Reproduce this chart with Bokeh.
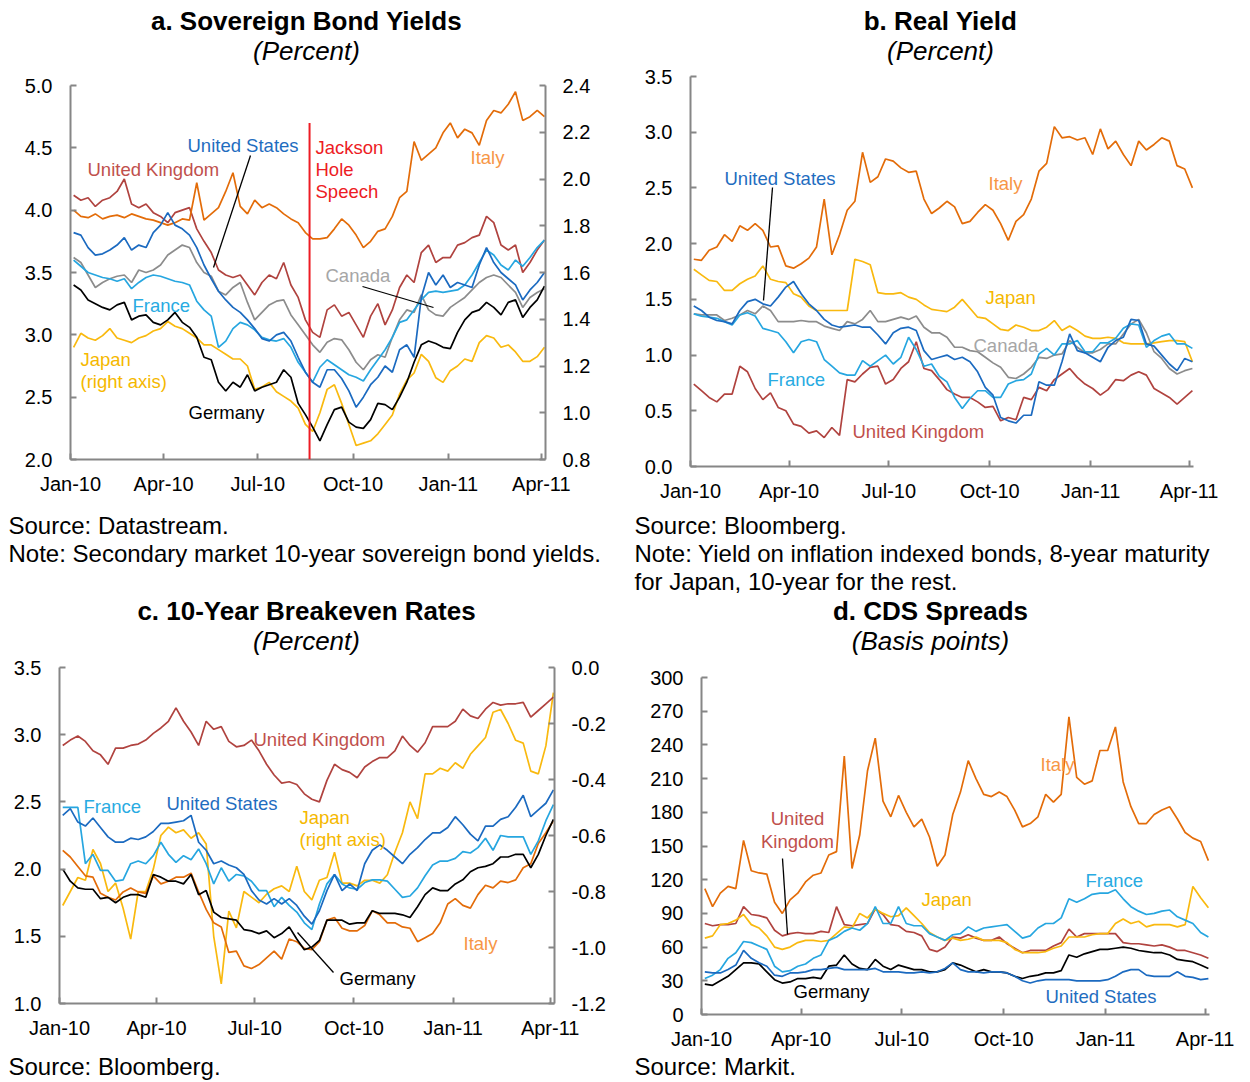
import numpy as np
import pandas as pd
from bokeh.plotting import figure
from bokeh.layouts import column, row
from bokeh.models import (Range1d, LinearAxis, FixedTicker, PrintfTickFormatter,
                          DatetimeTickFormatter, Label, Arrow)
from bokeh.embed import file_html
from bokeh.resources import INLINE

# ---------------------------------------------------------------- data
dates = pd.date_range("2010-01-04", periods=66, freq="7D")   # weekly observations
x_start, x_end = "2010-01-01", "2011-04-05"
tick_dates = ["2010-01-01", "2010-04-01", "2010-07-01", "2010-10-01", "2011-01-01", "2011-04-01"]
tick_labels = ["Jan-10", "Apr-10", "Jul-10", "Oct-10", "Jan-11", "Apr-11"]
jackson_hole_date = "2010-08-20"

# a. Sovereign bond yields (percent); Japan on right axis
a_italy = [4.00,3.95,3.94,3.97,3.93,3.95,3.96,3.94,3.97,3.95,
           3.93,3.92,3.90,3.88,3.90,3.93,3.92,4.22,3.92,3.97,
           4.02,4.15,4.30,4.03,3.97,4.08,4.02,4.05,4.02,3.97,
           3.93,3.90,3.82,3.77,3.77,3.78,3.85,3.93,3.88,3.80,
           3.70,3.75,3.83,3.85,3.95,4.10,4.15,4.55,4.40,4.45,
           4.50,4.62,4.70,4.58,4.65,4.62,4.52,4.72,4.80,4.78,
           4.85,4.95,4.72,4.75,4.80,4.75]
a_uk = [4.12,4.08,4.10,4.03,4.08,4.10,4.15,4.25,4.05,4.02,
        4.05,3.98,3.95,3.90,3.98,4.00,4.02,3.85,3.75,3.66,
        3.52,3.48,3.46,3.48,3.40,3.32,3.42,3.48,3.45,3.58,
        3.40,3.30,3.12,3.02,2.98,3.20,3.24,3.15,3.18,3.08,
        2.98,3.15,3.25,3.08,3.20,3.38,3.48,3.42,3.66,3.72,
        3.58,3.62,3.62,3.72,3.74,3.78,3.80,3.95,3.90,3.72,
        3.68,3.72,3.50,3.58,3.68,3.76]
a_us = [3.82,3.80,3.70,3.64,3.65,3.68,3.72,3.78,3.68,3.72,
        3.70,3.82,3.88,3.98,3.88,3.85,3.80,3.70,3.56,3.45,
        3.35,3.28,3.22,3.18,3.12,3.05,2.97,2.95,3.00,3.02,
        2.95,2.82,2.70,2.62,2.58,2.72,2.72,2.65,2.55,2.42,
        2.50,2.60,2.66,2.75,2.70,2.88,2.92,2.82,3.30,3.50,
        3.40,3.48,3.38,3.42,3.40,3.38,3.56,3.70,3.58,3.50,
        3.45,3.40,3.28,3.36,3.42,3.50]
a_france = [3.60,3.55,3.50,3.48,3.46,3.45,3.43,3.45,3.37,3.42,
            3.46,3.48,3.47,3.45,3.43,3.42,3.40,3.27,3.20,3.15,
            2.90,2.95,3.05,3.10,3.08,3.04,2.98,2.96,2.95,2.97,
            2.90,2.78,2.70,2.62,2.74,2.80,2.76,2.72,2.68,2.66,
            2.63,2.72,2.80,2.88,2.98,3.10,3.12,3.20,3.28,3.34,
            3.35,3.34,3.35,3.36,3.40,3.48,3.58,3.68,3.64,3.56,
            3.52,3.60,3.55,3.62,3.70,3.76]
a_canada = [3.62,3.58,3.48,3.38,3.42,3.45,3.47,3.48,3.42,3.52,
            3.50,3.52,3.56,3.64,3.68,3.72,3.70,3.58,3.50,3.47,
            3.35,3.32,3.38,3.42,3.26,3.12,3.18,3.24,3.27,3.28,
            3.16,3.08,3.00,2.92,2.86,2.94,2.97,2.96,2.88,2.78,
            2.72,2.80,2.84,2.82,2.98,3.12,3.20,3.18,3.32,3.20,
            3.16,3.15,3.22,3.26,3.30,3.36,3.42,3.46,3.48,3.46,
            3.40,3.34,3.22,3.30,3.34,3.37]
a_germany = [3.40,3.36,3.28,3.25,3.22,3.20,3.24,3.26,3.12,3.15,
             3.16,3.10,3.08,3.12,3.18,3.10,3.06,2.98,2.82,2.80,
             2.62,2.55,2.62,2.58,2.68,2.55,2.58,2.60,2.62,2.72,
             2.66,2.45,2.36,2.26,2.15,2.28,2.40,2.42,2.30,2.26,
             2.25,2.32,2.45,2.44,2.40,2.50,2.62,2.78,2.92,2.95,
             2.93,2.90,2.89,3.02,3.12,3.18,3.20,3.26,3.22,3.16,
             3.26,3.28,3.14,3.22,3.28,3.39]
a_japan = [1.28,1.34,1.32,1.31,1.33,1.36,1.32,1.31,1.30,1.32,
           1.33,1.35,1.36,1.39,1.37,1.36,1.34,1.32,1.29,1.29,
           1.27,1.25,1.23,1.23,1.20,1.10,1.11,1.13,1.09,1.07,
           1.05,1.02,0.95,0.92,1.00,1.10,1.12,1.04,0.95,0.86,
           0.87,0.88,0.91,0.95,0.99,1.08,1.14,1.17,1.25,1.22,
           1.15,1.13,1.18,1.20,1.23,1.22,1.30,1.33,1.32,1.28,
           1.29,1.26,1.22,1.22,1.24,1.28]

# b. Real yield (percent)
b_italy = [1.86,1.85,1.94,1.97,2.08,2.02,2.16,2.12,2.18,2.12,
           1.97,1.98,1.80,1.78,1.82,1.87,1.97,2.40,1.90,2.08,
           2.30,2.38,2.82,2.55,2.60,2.76,2.74,2.68,2.64,2.65,
           2.40,2.27,2.32,2.38,2.33,2.18,2.20,2.28,2.35,2.30,
           2.18,2.03,2.20,2.26,2.40,2.65,2.72,3.05,2.95,2.96,
           2.93,2.95,2.80,3.03,2.85,2.92,2.80,2.70,2.92,2.84,
           2.89,2.95,2.92,2.70,2.67,2.50]
b_uk = [0.74,0.68,0.62,0.58,0.65,0.65,0.90,0.85,0.70,0.60,
        0.66,0.53,0.50,0.38,0.36,0.30,0.32,0.26,0.35,0.28,
        0.78,0.76,0.83,0.89,0.90,0.74,0.78,0.88,0.94,1.12,
        0.88,0.86,0.78,0.69,0.65,0.62,0.62,0.58,0.53,0.54,
        0.41,0.44,0.42,0.62,0.60,0.71,0.68,0.78,0.83,0.88,
        0.80,0.74,0.70,0.64,0.69,0.78,0.77,0.82,0.85,0.82,
        0.70,0.66,0.62,0.56,0.62,0.68]
b_japan = [1.77,1.72,1.67,1.66,1.58,1.58,1.64,1.68,1.71,1.80,
           1.68,1.66,1.65,1.55,1.52,1.44,1.40,1.40,1.40,1.40,
           1.40,1.86,1.84,1.81,1.56,1.55,1.55,1.56,1.52,1.50,
           1.45,1.41,1.40,1.39,1.43,1.50,1.42,1.34,1.33,1.28,
           1.23,1.22,1.27,1.25,1.22,1.22,1.25,1.31,1.22,1.26,
           1.22,1.17,1.15,1.15,1.16,1.15,1.11,1.10,1.10,1.10,
           1.11,1.12,1.13,1.13,1.12,0.94]
b_us = [1.44,1.40,1.34,1.31,1.30,1.28,1.40,1.48,1.50,1.46,
        1.44,1.52,1.61,1.66,1.55,1.46,1.40,1.32,1.27,1.25,
        1.26,1.27,1.25,1.25,1.18,1.10,1.20,1.24,1.25,1.22,
        1.04,0.96,0.98,1.00,0.96,0.98,0.94,0.85,0.71,0.64,
        0.44,0.41,0.39,0.46,0.46,0.76,0.73,0.73,0.94,1.19,
        1.04,1.02,0.98,0.94,1.07,1.13,1.16,1.32,1.31,1.10,
        1.08,1.00,0.92,0.86,0.97,0.94]
b_france = [1.37,1.35,1.34,1.33,1.30,1.27,1.36,1.38,1.35,1.24,
            1.22,1.20,1.12,1.02,1.12,1.14,1.12,0.96,0.90,0.84,
            0.82,0.82,0.95,0.90,0.95,1.00,0.92,0.98,1.16,1.05,
            0.90,0.92,0.81,0.76,0.62,0.52,0.61,0.68,0.68,0.62,
            0.62,0.74,0.77,0.78,0.83,1.01,1.06,1.00,1.10,1.10,
            1.13,1.03,1.03,1.11,1.11,1.15,1.24,1.28,1.27,1.07,
            1.13,1.17,1.19,1.10,1.10,1.06]
b_canada = [1.37,1.36,1.36,1.36,1.31,1.33,1.36,1.40,1.37,1.44,
            1.40,1.30,1.30,1.30,1.31,1.30,1.30,1.26,1.24,1.22,
            1.30,1.28,1.32,1.40,1.30,1.30,1.32,1.34,1.32,1.35,
            1.25,1.20,1.20,1.16,1.07,1.07,1.04,1.03,0.98,0.93,
            0.89,0.80,0.79,0.83,0.89,0.98,0.97,1.00,1.01,1.13,
            1.07,1.02,1.02,1.05,1.10,1.10,1.19,1.28,1.32,1.20,
            1.03,0.97,0.88,0.83,0.86,0.88]

# c. 10-year breakeven rates (percent); Japan on right axis
c_uk = [2.92,2.96,2.99,2.95,2.88,2.85,2.78,2.90,2.90,2.92,
        2.93,2.96,3.01,3.05,3.10,3.20,3.10,3.02,2.92,3.10,
        3.04,3.06,2.95,2.91,2.92,2.96,2.88,2.78,2.70,2.64,
        2.65,2.63,2.56,2.52,2.50,2.66,2.78,2.74,2.72,2.68,
        2.76,2.80,2.83,2.83,2.88,2.99,2.92,2.87,2.94,3.06,
        3.06,3.06,3.10,3.19,3.14,3.12,3.19,3.24,3.22,3.23,
        3.23,3.24,3.13,3.18,3.23,3.28]
c_us = [2.40,2.45,2.35,2.32,2.38,2.31,2.24,2.20,2.20,2.23,
        2.22,2.24,2.28,2.34,2.34,2.35,2.36,2.40,2.20,2.14,
        2.04,2.06,2.03,2.01,1.96,1.84,1.77,1.74,1.78,1.74,
        1.78,1.73,1.65,1.59,1.69,1.84,1.96,1.84,1.89,1.84,
        2.04,2.14,2.18,2.14,2.09,2.04,2.11,2.16,2.22,2.27,
        2.27,2.31,2.39,2.33,2.26,2.21,2.32,2.32,2.37,2.39,
        2.46,2.55,2.39,2.44,2.49,2.59]
c_france = [2.46,2.46,2.46,2.04,2.11,1.99,1.99,1.91,1.92,2.04,
            2.06,2.04,2.10,2.20,2.11,2.05,2.10,2.07,2.15,2.04,
            1.89,2.01,1.91,1.96,1.95,1.91,1.84,1.84,1.72,1.79,
            1.73,1.68,1.60,1.55,1.74,1.89,1.96,1.89,1.86,1.85,
            1.90,1.92,1.92,1.91,1.85,1.79,1.80,1.86,1.95,2.03,
            2.06,2.06,2.08,2.13,2.12,2.16,2.23,2.14,2.25,2.24,
            2.24,2.24,2.11,2.21,2.36,2.48]
c_germany = [2.00,1.91,1.86,1.85,1.85,1.78,1.79,1.75,1.79,1.81,
             1.81,1.79,1.96,1.94,1.91,1.91,1.89,1.96,1.81,1.84,
             1.68,1.64,1.63,1.62,1.55,1.54,1.52,1.54,1.49,1.52,
             1.57,1.48,1.40,1.42,1.47,1.62,1.62,1.62,1.59,1.60,
             1.60,1.69,1.67,1.67,1.67,1.66,1.64,1.72,1.81,1.86,
             1.84,1.84,1.89,1.92,1.98,2.01,2.02,2.04,2.09,2.09,
             2.11,2.11,2.01,2.11,2.25,2.37]
c_italy = [2.14,2.09,2.02,1.95,1.94,1.82,1.79,1.77,1.83,1.86,
           1.83,1.82,1.95,1.89,1.91,1.94,1.94,1.97,1.83,1.70,
           1.60,1.57,1.38,1.39,1.28,1.26,1.29,1.34,1.39,1.33,
           1.48,1.46,1.41,1.40,1.46,1.62,1.64,1.56,1.54,1.54,
           1.58,1.69,1.66,1.60,1.60,1.57,1.56,1.46,1.49,1.52,
           1.60,1.74,1.78,1.73,1.71,1.81,1.88,1.86,1.91,1.90,
           1.92,2.01,2.04,2.19,2.27,2.36]
c_japan = [-0.85,-0.80,-0.75,-0.76,-0.65,-0.70,-0.80,-0.77,-0.86,-0.97,
           -0.80,-0.80,-0.72,-0.60,-0.57,-0.59,-0.58,-0.61,-0.59,-0.63,
           -0.96,-1.13,-0.87,-0.93,-0.80,-0.82,-0.84,-0.81,-0.79,-0.78,
           -0.80,-0.71,-0.80,-0.83,-0.76,-0.75,-0.66,-0.77,-0.77,-0.78,
           -0.76,-0.76,-0.77,-0.74,-0.66,-0.59,-0.48,-0.54,-0.38,-0.38,
           -0.36,-0.37,-0.34,-0.36,-0.31,-0.28,-0.25,-0.16,-0.15,-0.20,
           -0.26,-0.27,-0.37,-0.38,-0.28,-0.09]

# d. CDS spreads (basis points)
d_italy = [112,96,108,114,112,155,128,126,125,100,
           90,102,108,118,124,126,142,145,230,130,
           160,217,246,190,176,195,180,167,174,158,
           132,142,178,198,226,210,196,194,198,194,
           182,167,170,176,196,189,196,265,211,205,
           208,235,235,256,207,185,170,170,178,182,
           185,174,162,157,154,137]
d_uk = [81,79,80,80,81,96,89,88,86,75,
        70,72,73,72,72,74,73,96,80,79,
        80,81,94,89,80,79,74,73,70,58,
        56,60,69,68,71,68,66,66,69,63,
        59,55,57,57,57,61,64,76,69,72,
        72,72,72,72,64,63,63,62,61,62,
        60,57,57,55,53,50]
d_japan = [68,70,80,81,84,89,80,77,70,60,
           58,60,64,66,66,65,66,72,78,77,
           90,86,94,90,87,88,95,88,81,73,
           69,66,68,66,67,69,66,66,66,64,
           58,55,55,55,56,59,61,69,69,69,
           71,72,72,81,85,81,83,78,80,80,
           80,78,80,114,104,95]
d_france = [32,35,40,50,55,65,64,61,58,43,
            38,39,43,45,50,53,66,69,74,77,
            75,81,96,81,81,96,81,79,79,72,
            69,66,71,72,78,74,77,78,79,80,
            74,68,70,77,81,81,86,103,100,103,
            107,108,108,111,103,96,92,89,90,92,
            93,87,84,81,73,69]
d_us = [38,37,37,40,44,57,50,46,43,35,
        34,37,37,38,40,40,41,42,40,40,
        40,40,41,38,38,38,37,37,38,37,
        38,41,46,40,38,38,37,38,38,37,
        34,30,28,30,31,31,31,31,30,30,
        30,30,31,34,38,40,40,35,34,34,
        34,38,34,33,31,32]
d_germany = [27,26,30,34,40,46,46,45,38,31,
             28,29,32,32,33,32,43,44,53,45,
             41,40,49,43,40,44,42,40,40,38,
             38,40,46,44,41,38,40,38,38,37,
             34,32,34,35,37,37,39,53,51,54,
             56,58,58,59,60,59,57,56,55,55,
             53,49,48,47,44,41]

a_left_ticks = [2.0, 2.5, 3.0, 3.5, 4.0, 4.5, 5.0]
a_right_ticks = [0.8, 1.0, 1.2, 1.4, 1.6, 1.8, 2.0, 2.2, 2.4]
b_ticks = [0.0, 0.5, 1.0, 1.5, 2.0, 2.5, 3.0, 3.5]
c_left_ticks = [1.0, 1.5, 2.0, 2.5, 3.0, 3.5]
c_right_ticks = [0.0, -0.2, -0.4, -0.6, -0.8, -1.0, -1.2]
d_ticks = [0, 30, 60, 90, 120, 150, 180, 210, 240, 270, 300]

# ---------------------------------------------------------------- style
FONT = "Liberation Sans"
C_IT, C_UK, C_US = "#e36c09", "#b0433f", "#1b6ac0"
C_FR, C_CA, C_DE, C_JP = "#26a6e0", "#8c8c8c", "#000000", "#f9b90f"
L_IT, L_UK, L_US = "#f79646", "#c0504d", "#1f6dbf"
L_FR, L_CA, L_JP, L_JH = "#29abe2", "#a6a6a6", "#f5b800", "#ed1c24"
AXC = "#868686"
LW = 1.7
W = 624


def ms(d):
    return int(pd.Timestamp(d).value // 10**6)


tick_ms = [ms(d) for d in tick_dates]


def no_align(p):
    try:
        p.frame_align = False
    except Exception:
        pass


def style_axis(ax, standoff):
    ax.axis_line_color = AXC
    ax.axis_line_width = 2
    ax.major_tick_line_color = AXC
    ax.major_tick_line_width = 2
    ax.major_tick_in = 6
    ax.major_tick_out = 0
    ax.minor_tick_line_color = None
    ax.major_label_text_font = FONT
    ax.major_label_text_font_size = "20px"
    ax.major_label_text_color = "black"
    ax.major_label_standoff = standoff


def make_panel(h, bl, br, bt, bb, yr, yticks, yfmt):
    p = figure(width=W, height=h, x_axis_type="datetime",
               x_range=Range1d(ms(x_start), ms(x_end)), y_range=Range1d(*yr),
               output_backend="svg", toolbar_location=None,
               min_border_left=bl, min_border_right=br,
               min_border_top=bt, min_border_bottom=bb)
    no_align(p)
    p.title.visible = False
    p.outline_line_color = None
    p.xgrid.visible = False
    p.ygrid.visible = False
    p.xaxis.ticker = FixedTicker(ticks=tick_ms)
    p.xaxis.formatter = DatetimeTickFormatter(months="%b-%y", days="%b-%y", years="%b-%y")
    p.xaxis.major_label_overrides = dict(zip(tick_ms, tick_labels))
    p.yaxis.ticker = FixedTicker(ticks=yticks)
    p.yaxis.formatter = PrintfTickFormatter(format=yfmt)
    for ax in p.xaxis:
        style_axis(ax, 13)
    for ax in p.yaxis:
        style_axis(ax, 18)
    return p


def text_panel(h):
    p = figure(width=W, height=h, x_range=Range1d(0, W), y_range=Range1d(0, h),
               output_backend="svg", toolbar_location=None,
               x_axis_location=None, y_axis_location=None, min_border=0)
    no_align(p)
    p.title.visible = False
    p.outline_line_color = None
    p.xgrid.visible = False
    p.ygrid.visible = False
    return p


def add_right_axis(p, yr, yticks, yfmt):
    p.extra_y_ranges = {"r": Range1d(*yr)}
    ax = LinearAxis(y_range_name="r", ticker=FixedTicker(ticks=yticks),
                    formatter=PrintfTickFormatter(format=yfmt))
    style_axis(ax, 17)
    p.add_layout(ax, "right")


def text(p, fl, fb, px, py, s, color, size="18.5px", align="left", style="normal"):
    p.add_layout(Label(x=px - fl, y=fb - py, x_units="screen", y_units="screen",
                       text=s, text_color=color, text_font=FONT,
                       text_font_size=size, text_align=align,
                       text_baseline="middle", text_font_style=style))


def leader(p, fl, fb, x0, y0, x1, y1):
    p.add_layout(Arrow(end=None, x_start=x0 - fl, y_start=fb - y0,
                       x_end=x1 - fl, y_end=fb - y1,
                       start_units="screen", end_units="screen",
                       line_color="black", line_width=1.3))


def titles(p, fl, fb, cx, y1, y2, t1, t2):
    text(p, fl, fb, cx, y1, t1, "black", "26px", "center", "bold")
    text(p, fl, fb, cx, y2, t2, "black", "26px", "center", "italic")


def notes(p, fl, fb, x, ys, lines):
    for y, s in zip(ys, lines):
        text(p, fl, fb, x, y, s, "black", "24px", "left")


# page rows (y ranges): 0-66 titles, 66-505 plots, 505-656 notes+titles,
# 656-1052 plots, 1052-1081 notes
Y1, Y2, Y3, Y4, Y5 = 66, 505, 656, 1052, 1081

# ---------------------------------------------------------------- top titles
t_left = text_panel(Y1)
t_right = text_panel(Y1)
titles(t_left, 0, Y1, 306, 20, 50, "a. Sovereign Bond Yields", "(Percent)")
titles(t_right, W, Y1, 940, 20, 50, "b. Real Yield", "(Percent)")

# ---------------------------------------------------------------- panel a
pa = make_panel(Y2 - Y1, 70, W - 545, 85 - Y1, Y2 - 459, (2.0, 5.0), a_left_ticks, "%.1f")
add_right_axis(pa, (0.8, 2.4), a_right_ticks, "%.1f")
pa.line(dates, a_japan, y_range_name="r", line_color=C_JP, line_width=LW)
pa.line(dates, a_canada, line_color=C_CA, line_width=LW)
pa.line(dates, a_uk, line_color=C_UK, line_width=LW)
pa.line(dates, a_italy, line_color=C_IT, line_width=LW)
pa.line(dates, a_france, line_color=C_FR, line_width=LW)
pa.line(dates, a_us, line_color=C_US, line_width=LW)
pa.line(dates, a_germany, line_color=C_DE, line_width=LW)
pa.add_layout(Arrow(end=None, x_start=ms(jackson_hole_date), y_start=2.0,
                    x_end=ms(jackson_hole_date), y_end=4.7,
                    line_color=L_JH, line_width=2))
FA = (70, 459)
text(pa, *FA, 187, 145, "United States", L_US)
text(pa, *FA, 87, 169, "United Kingdom", L_UK)
leader(pa, *FA, 250, 155, 213, 267)
text(pa, *FA, 315, 147, "Jackson", L_JH)
text(pa, *FA, 315, 169, "Hole", L_JH)
text(pa, *FA, 315, 191, "Speech", L_JH)
text(pa, *FA, 470, 157, "Italy", L_IT)
text(pa, *FA, 325, 275, "Canada", L_CA)
leader(pa, *FA, 362, 286, 433, 307)
text(pa, *FA, 132, 305, "France", L_FR)
text(pa, *FA, 80, 359, "Japan", L_JP)
text(pa, *FA, 80, 381, "(right axis)", L_JP)
text(pa, *FA, 188, 412, "Germany", "black")

# ---------------------------------------------------------------- panel b
pb = make_panel(Y2 - Y1, 690 - W, W - (1193 - W), 76 - Y1, Y2 - 466, (0.0, 3.5), b_ticks, "%.1f")
pb.line(dates, b_japan, line_color=C_JP, line_width=LW)
pb.line(dates, b_canada, line_color=C_CA, line_width=LW)
pb.line(dates, b_uk, line_color=C_UK, line_width=LW)
pb.line(dates, b_italy, line_color=C_IT, line_width=LW)
pb.line(dates, b_france, line_color=C_FR, line_width=LW)
pb.line(dates, b_us, line_color=C_US, line_width=LW)
FB = (690, 466)
text(pb, *FB, 724, 178, "United States", L_US)
leader(pb, *FB, 772, 187, 763, 300)
text(pb, *FB, 988, 183, "Italy", L_IT)
text(pb, *FB, 985, 297, "Japan", L_JP)
text(pb, *FB, 973, 345, "Canada", L_CA)
text(pb, *FB, 767, 379, "France", L_FR)
text(pb, *FB, 852, 431, "United Kingdom", L_UK)

# ---------------------------------------------------------------- middle text
m_left = text_panel(Y3 - Y2)
m_right = text_panel(Y3 - Y2)
notes(m_left, 0, Y3, 8, [525, 553], ["Source: Datastream.",
      "Note: Secondary market 10-year sovereign bond yields."])
titles(m_left, 0, Y3, 306, 610, 640, "c. 10-Year Breakeven Rates", "(Percent)")
notes(m_right, W, Y3, 634, [525, 553, 581], ["Source: Bloomberg.",
      "Note: Yield on inflation indexed bonds, 8-year maturity",
      "for Japan, 10-year for the rest."])
titles(m_right, W, Y3, 930, 610, 640, "d. CDS Spreads", "(Basis points)")

# ---------------------------------------------------------------- panel c
pc = make_panel(Y4 - Y3, 59, W - 554, 667 - Y3, Y4 - 1003, (1.0, 3.5), c_left_ticks, "%.1f")
add_right_axis(pc, (-1.2, 0.0), c_right_ticks, "%.1f")
pc.line(dates, c_japan, y_range_name="r", line_color=C_JP, line_width=LW)
pc.line(dates, c_uk, line_color=C_UK, line_width=LW)
pc.line(dates, c_italy, line_color=C_IT, line_width=LW)
pc.line(dates, c_france, line_color=C_FR, line_width=LW)
pc.line(dates, c_us, line_color=C_US, line_width=LW)
pc.line(dates, c_germany, line_color=C_DE, line_width=LW)
FC = (59, 1003)
text(pc, *FC, 253, 739, "United Kingdom", L_UK)
text(pc, *FC, 83, 806, "France", L_FR)
text(pc, *FC, 166, 803, "United States", L_US)
text(pc, *FC, 299, 817, "Japan", L_JP)
text(pc, *FC, 299, 839, "(right axis)", L_JP)
text(pc, *FC, 463, 943, "Italy", L_IT)
text(pc, *FC, 339, 978, "Germany", "black")
leader(pc, *FC, 333, 972, 297, 932)

# ---------------------------------------------------------------- panel d
pd_ = make_panel(Y4 - Y3, 701 - W, W - (1209 - W), 677 - Y3, Y4 - 1015, (0, 300), d_ticks, "%d")
pd_.line(dates, d_italy, line_color=C_IT, line_width=LW)
pd_.line(dates, d_uk, line_color=C_UK, line_width=LW)
pd_.line(dates, d_japan, line_color=C_JP, line_width=LW)
pd_.line(dates, d_france, line_color=C_FR, line_width=LW)
pd_.line(dates, d_germany, line_color=C_DE, line_width=LW)
pd_.line(dates, d_us, line_color=C_US, line_width=LW)
FD = (701, 1015)
text(pd_, *FD, 797, 819, "United", L_UK, align="center")
text(pd_, *FD, 797, 842, "Kingdom", L_UK, align="center")
leader(pd_, *FD, 782, 859, 787, 935)
text(pd_, *FD, 1040, 765, "Italy", L_IT)
text(pd_, *FD, 921, 900, "Japan", L_JP)
text(pd_, *FD, 1085, 881, "France", L_FR)
text(pd_, *FD, 793, 992, "Germany", "black")
text(pd_, *FD, 1045, 997, "United States", L_US)

# ---------------------------------------------------------------- bottom text
b_left = text_panel(Y5 - Y4)
b_right = text_panel(Y5 - Y4)
notes(b_left, 0, Y5, 8, [1066], ["Source: Bloomberg."])
notes(b_right, W, Y5, 634, [1066], ["Source: Markit."])

layout = column(row(t_left, t_right), row(pa, pb), row(m_left, m_right),
                row(pc, pd_), row(b_left, b_right))
open("out.html", "w").write(file_html(layout, INLINE))
